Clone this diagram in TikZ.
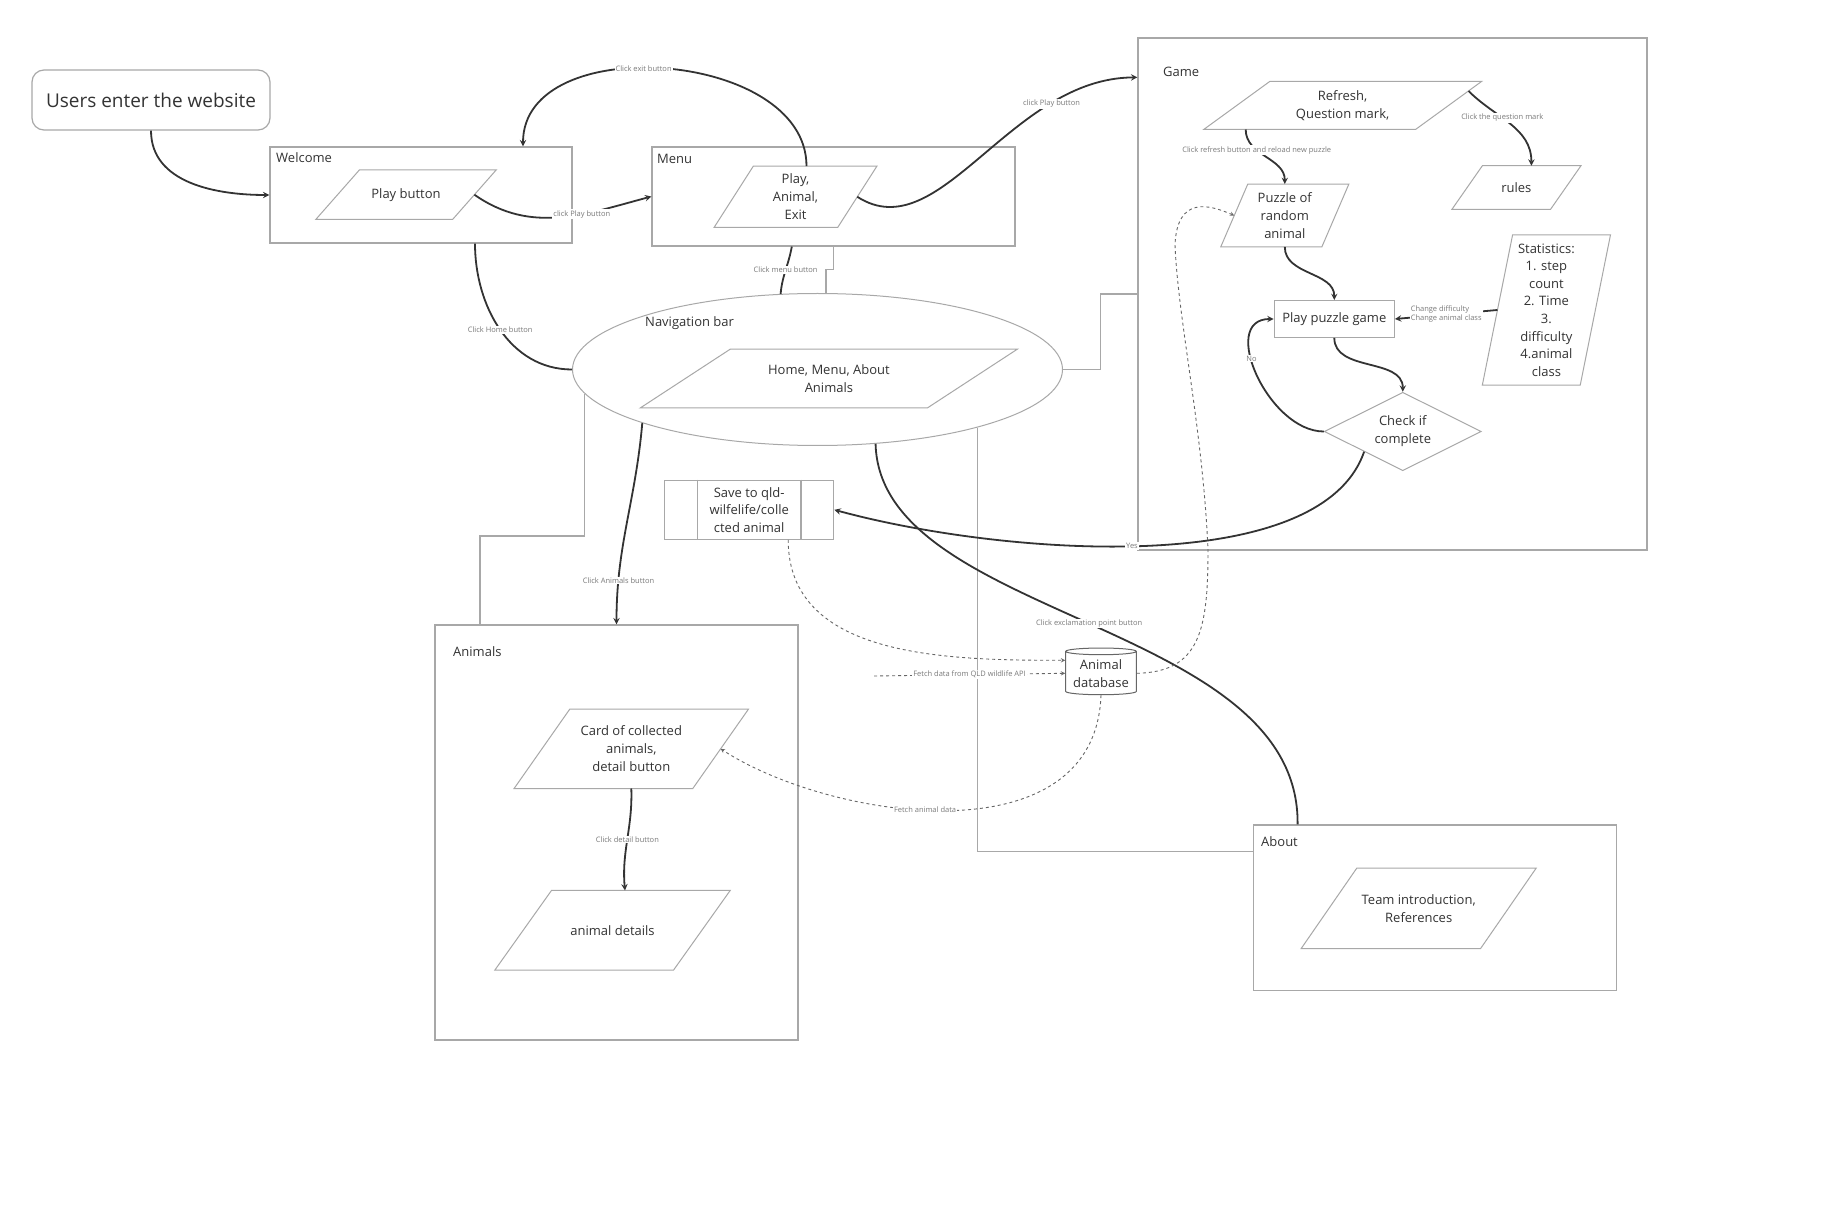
\documentclass[tikz,border=0pt]{standalone}
\usepackage{fontspec}
\setmainfont{Open Sans}
\usetikzlibrary{calc,shapes.geometric,positioning}
\definecolor{sgray}{HTML}{A8A8A8}
\definecolor{sdark}{HTML}{333333}
\definecolor{slabel}{HTML}{7A7A7A}
\definecolor{sdash}{HTML}{666666}
% outline of a parallelogram round a node, #2 = half of the slant
\newcommand{\drawpara}[2]{\draw[draw=sgray, line width=1pt] ([xshift=-#2pt]#1.south west) -- ([xshift=-#2pt]#1.south east) -- ([xshift=#2pt]#1.north east) -- ([xshift=#2pt]#1.north west) -- cycle;}

\begin{document}
\begin{tikzpicture}[x=1pt,y=-1pt,
    frame/.style={draw=sgray, line width=1.2pt, rectangle, inner sep=0pt},
    boxtitle/.style={anchor=west, inner sep=0pt, text=black!80, font=\fontsize{13}{16}\selectfont},
    para/.style={rectangle, inner sep=0pt, align=center, text=black!80, font=\fontsize{13}{18}\selectfont},
    flowline/.style={draw=sdark, line width=1.8pt, ->, >=stealth},
    plainline/.style={draw=sdark, line width=1.8pt},
    datalink/.style={draw=sdash, dashed, line width=0.9pt, ->, >=stealth},
    elbowline/.style={draw=sgray, line width=1.2pt},
    lbl/.style={fill=white, inner sep=1pt, text=slabel, font=\fontsize{7.5}{9}\selectfont, align=center}
    ]
    \path[fill=white, use as bounding box] (0,0) rectangle (1840,1222);

    % start and welcome page
    \node[frame, rounded corners=12pt, minimum width=238, minimum height=60, text=black!80, font=\fontsize{19}{23}\selectfont] (start) at (151,100) {Users enter the website};
    \node[frame, minimum width=302, minimum height=96] (welcome) at (421,195) {};
    \node[boxtitle] (welcometitle) at (276,158) {Welcome};
    \node[para, minimum width=136.4, minimum height=49] (playbtn) at (406,194.7) {Play button};
    \drawpara{playbtn}{21.75}

    % menu page
    \node[frame, minimum width=363, minimum height=99] (menu) at (833.5,196.5) {};
    \node[boxtitle] (menutitle) at (657,159) {Menu};
    \node[para, minimum width=123.2, minimum height=61] (menuopts) at (795.5,196.8) {Play,\\Animal,\\Exit};
    \drawpara{menuopts}{19.65}

    % game page
    \node[frame, minimum width=509, minimum height=512] (game) at (1392.5,294) {};
    \node[boxtitle] (gametitle) at (1163,72) {Game};
    \node[para, minimum width=211.4, minimum height=47.6] (refresh) at (1342.6,105.5) {Refresh,\\Question mark,};
    \drawpara{refresh}{33}
    \node[para, minimum width=98.2, minimum height=43.3] (rules) at (1516.4,187.6) {rules};
    \drawpara{rules}{15.25}
    \node[para, minimum width=100.7, minimum height=62.4] (puzzle) at (1284.8,215.5) {Puzzle of\\random\\animal};
    \drawpara{puzzle}{13.5}
    \node[frame, minimum width=120, minimum height=36.6, text=black!80, font=\fontsize{13}{18}\selectfont] (playgame) at (1334.3,319) {Play puzzle game};
    \node[para, minimum width=97.5, minimum height=150, font=\fontsize{13}{17.6}\selectfont] (stats) at (1546.4,310) {Statistics:\\1. step\\count\\2. Time\\3.\\difficulty\\4.animal\\class};
    \drawpara{stats}{15.15}
    \node[diamond, draw=sgray, line width=1pt, aspect=2, minimum width=157, minimum height=78.4, inner sep=0pt, align=center, text=black!80, font=\fontsize{13}{18}\selectfont] (check) at (1402.8,431.5) {Check if\\complete};

    % navigation bar
    \node[ellipse, draw=sgray, line width=1pt, minimum width=490, minimum height=152] (nav) at (817.5,369.5) {};
    \node[boxtitle] (navtitle) at (645,323) {Navigation bar};
    \node[para, minimum width=286.7, minimum height=58.4] (navopts) at (828.9,378.5) {Home, Menu, About\\Animals};
    \drawpara{navopts}{45}

    \node[frame, minimum width=169, minimum height=59, align=center, text=black!80, font=\fontsize{13}{17.5}\selectfont] (save) at (749.2,509.8) {Save to qld-\\wilfelife/colle\\cted animal};
    \draw[elbowline] ([xshift=33.6pt]save.north west) -- ([xshift=33.6pt]save.south west);
    \draw[elbowline] ([xshift=-33.3pt]save.north east) -- ([xshift=-33.3pt]save.south east);

    % animals page
    \node[frame, minimum width=363, minimum height=415] (animals) at (616.5,832.5) {};
    \node[boxtitle] (animalstitle) at (453,652) {Animals};
    \node[para, minimum width=178.3, minimum height=79] (card) at (631.3,748.8) {Card of collected\\animals,\\detail button};
    \drawpara{card}{27.85}
    \node[para, minimum width=178.3, minimum height=79.3] (details) at (612.5,930.3) {animal details};
    \drawpara{details}{28.35}

    \node[cylinder, shape border rotate=90, aspect=0.12, draw=sdash, line width=1pt, minimum width=70.7, minimum height=46.7, inner sep=0pt, align=center, text=black!80, font=\fontsize{13}{17.7}\selectfont] (db) at (1101,673.3) {Animal\\database};
    \coordinate (api) at (874,676);

    % about page
    \node[frame, minimum width=362.8, minimum height=165.7] (about) at (1435,907.9) {};
    \node[boxtitle] (abouttitle) at (1261,842) {About};
    \node[para, minimum width=179, minimum height=80] (team) at (1418.7,908.3) {Team introduction,\\References};
    \drawpara{team}{27.8}

    % grey elbows
    \draw[elbowline] (menu.south) -- ++(0,22.6) -| ($(nav.north)+(8.5,0)$);
    \draw[elbowline] (nav.east) -- ++(37.5,0) |- (game.west);
    \draw[elbowline] (nav.186) -- ++(0,142) -| ($(animals.north)+(-136.5,0)$);
    \draw[elbowline] (nav.340) |- ($(about.north west)+(0,27)$);

    % page flow
    \draw[flowline] (start.south) to[out=-90,in=180] (welcome.west);
    \draw[flowline] (playbtn.east) to[out=-35,in=195] node[lbl,pos=0.63] {click Play button} (menu.west);
    \draw[flowline] ($(menuopts.north)+(11,0)$) to[out=90,in=90,looseness=1.05] node[lbl,pos=0.55] {Click exit button} ($(welcome.north)+(102,0)$);
    \draw[flowline] (menuopts.east) .. controls (940,250) and (1010,78) .. node[lbl,pos=0.75] {click Play button} ($(game.north west)+(0,40)$);
    \draw[plainline] ($(welcome.south)+(54,0)$) to[out=-90,in=180] node[lbl,pos=0.5] {Click Home button} (nav.west);
    \draw[plainline] ($(menu.south)+(-41.7,0)$) to[out=-100,in=85] node[lbl] {Click menu button} (nav.116);
    \draw[flowline] (nav.197) to[out=-95,in=90] node[lbl,pos=0.8] {Click Animals button} (animals.north);
    \draw[plainline] (nav.308) .. controls (880,620) and (1300,620) .. node[lbl,pos=0.5] {Click exclamation point button} ($(about.north west)+(44.6,0)$);

    % game flow
    \draw[flowline] ($(refresh.south west)+(9,0)$) to[out=-90,in=90] node[lbl,pos=0.35] {Click refresh button and reload new puzzle} (puzzle.north);
    \draw[flowline] ($(refresh.north east)+(20,9.5)$) to[out=-45,in=90] node[lbl,pos=0.4] {Click the question mark} ($(rules.north)+(15,0)$);
    \draw[flowline] (puzzle.south) to[out=-90,in=90] (playgame.north);
    \draw[flowline] (playgame.south) to[out=-90,in=90] (check.north);
    \draw[flowline] (check.west) to[out=180,in=180,looseness=1.15] node[lbl,pos=0.6] {No} (playgame.west);
    \draw[flowline] ($(check.west)!0.51!(check.south)$) .. controls (1320,580) and (1000,555) .. node[lbl,pos=0.52] {Yes} (save.east);
    \draw[flowline] (stats.west) to node[lbl, align=left] {Change difficulty\\Change animal class} (playgame.east);

    % animals flow
    \draw[flowline] (card.south) to[out=-88,in=95] node[lbl] {Click detail button} ($(details.north)+(12.5,0)$);

    % data links
    \draw[datalink] ($(save.south)+(39,0)$) to[out=-90,in=180] ($(db.west)+(0,-13)$);
    \draw[datalink] (api) -- node[lbl] {Fetch data from QLD wildlife API} (db.west);
    \draw[datalink] (db.south) .. controls (1095,860) and (830,820) .. node[lbl,pos=0.55] {Fetch animal data} (card.east);
    \draw[datalink] (db.east) .. controls (1200,672) and (1208,630) .. (1208,550) .. controls (1203,430) and (1178,320) .. (1175,245) .. controls (1177,195) and (1210,205) .. (puzzle.west);
\end{tikzpicture}
\end{document}
